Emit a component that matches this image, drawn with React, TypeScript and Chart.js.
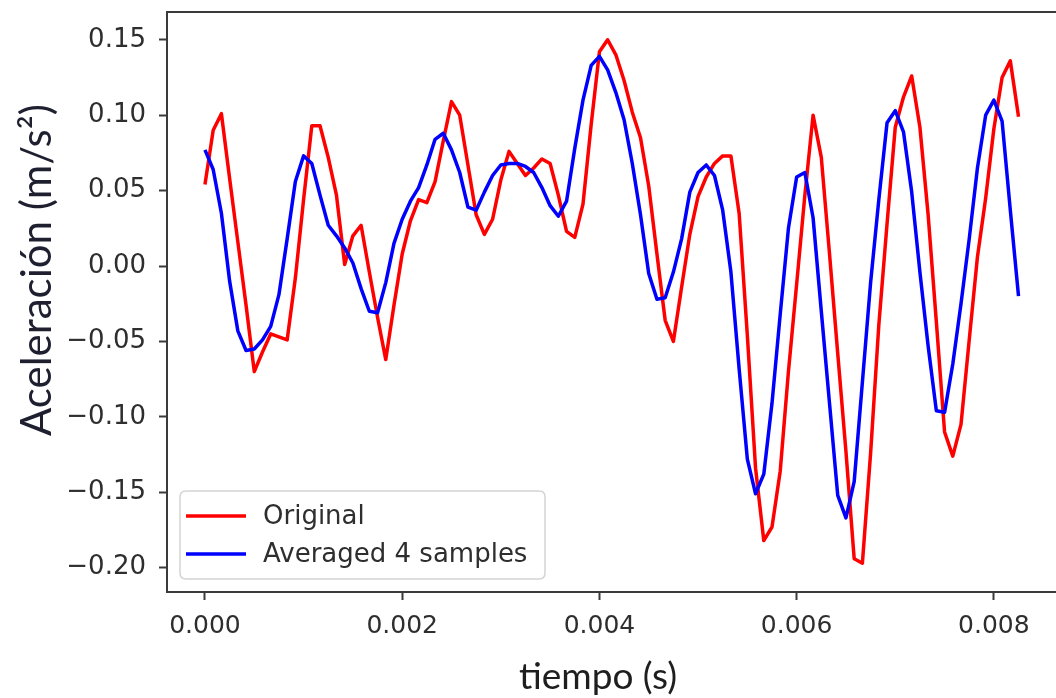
import React, { useEffect, useRef } from "react";
import { Chart, registerables } from "chart.js";

Chart.register(...registerables);

// Sampling period of the recorded signal (s)
const SAMPLE_PERIOD = 1 / 12000;

// Original acceleration samples (m/s^2)
const ORIGINAL = [
  0.054, 0.090, 0.101, 0.058, 0.016, -0.026, -0.070, -0.057, -0.045, -0.047,
  -0.049, -0.008, 0.044, 0.093, 0.093, 0.072, 0.047, 0.001, 0.020, 0.027,
  -0.004, -0.034, -0.062, -0.026, 0.008, 0.030, 0.044, 0.042, 0.056, 0.083,
  0.109, 0.100, 0.067, 0.034, 0.021, 0.031, 0.057, 0.076, 0.068, 0.060,
  0.065, 0.071, 0.068, 0.047, 0.023, 0.019, 0.041, 0.094, 0.142, 0.150,
  0.140, 0.123, 0.102, 0.085, 0.053, 0.008, -0.036, -0.050, -0.014, 0.021,
  0.046, 0.059, 0.068, 0.073, 0.073, 0.035, -0.046, -0.134, -0.182, -0.173,
  -0.136, -0.070, -0.012, 0.047, 0.100, 0.072, 0.008, -0.058, -0.123, -0.194,
  -0.197, -0.124, -0.039, 0.028, 0.092, 0.112, 0.126, 0.092, 0.034, -0.037,
  -0.110, -0.126, -0.105, -0.049, 0.006, 0.045, 0.091, 0.125, 0.136, 0.099,
];

// Averaged (4 samples) acceleration (m/s^2)
const AVERAGED = [
  0.077, 0.064, 0.035, -0.010, -0.043, -0.056, -0.055, -0.049, -0.040, -0.019,
  0.018, 0.056, 0.073, 0.068, 0.047, 0.027, 0.020, 0.012, 0.002, -0.015,
  -0.030, -0.031, -0.011, 0.015, 0.031, 0.043, 0.052, 0.067, 0.084, 0.088,
  0.077, 0.062, 0.039, 0.037, 0.049, 0.060, 0.067, 0.068, 0.068, 0.066,
  0.062, 0.052, 0.040, 0.033, 0.043, 0.078, 0.110, 0.133, 0.139, 0.130,
  0.115, 0.097, 0.068, 0.034, -0.005, -0.022, -0.021, -0.004, 0.018, 0.049,
  0.062, 0.067, 0.060, 0.037, -0.004, -0.068, -0.128, -0.151, -0.138, -0.091,
  -0.032, 0.025, 0.059, 0.062, 0.032, -0.030, -0.091, -0.152, -0.167, -0.143,
  -0.077, -0.011, 0.044, 0.095, 0.103, 0.089, 0.049, -0.004, -0.053, -0.096,
  -0.097, -0.065, -0.025, 0.018, 0.065, 0.100, 0.110, 0.096, 0.037, -0.020,
];

const SERIES_LABELS = ["Original", "Averaged 4 samples"];
const SERIES_COLORS = ["#ff0000", "#0000ff"];

const X_TICKS = [0, 0.002, 0.004, 0.006, 0.008];
const X_TICK_LABELS = ["0.000", "0.002", "0.004", "0.006", "0.008"];
const Y_TICKS = [0.15, 0.1, 0.05, 0, -0.05, -0.1, -0.15, -0.2];
const Y_TICK_LABELS = ["0.15", "0.10", "0.05", "0.00", "\u22120.05", "\u22120.10", "\u22120.15", "\u22120.20"];

const X_TITLE = "tiempo (s)";
const Y_TITLE = "Aceleración (m/s²)";

const AXIS_COLOR = "#3a3a3a";
const TEXT_COLOR = "#2e2e2e";
const TICK_FONT = "DejaVu Sans";
const TITLE_FONT = "Lato";

export default function App() {
  const ref = useRef<HTMLCanvasElement>(null);

  useEffect(() => {
    const canvas = ref.current;
    if (!canvas) return;
    const times = ORIGINAL.map((_, i) => i * SAMPLE_PERIOD);

    const framePlugin = {
      id: "frameAndLegend",
      afterDraw(chart: any) {
        const { ctx, chartArea } = chart;
        ctx.save();
        // top spine
        ctx.strokeStyle = AXIS_COLOR;
        ctx.lineWidth = 2;
        ctx.beginPath();
        ctx.moveTo(chartArea.left - 1, chartArea.top);
        ctx.lineTo(chartArea.right, chartArea.top);
        ctx.stroke();

        // axis titles
        ctx.fillStyle = "#1e1e1e";
        ctx.font = `37px "${TITLE_FONT}"`;
        ctx.textAlign = "center";
        ctx.textBaseline = "alphabetic";
        ctx.fillText(X_TITLE, 598, 689);

        ctx.save();
        ctx.translate(51, 270);
        ctx.rotate(-Math.PI / 2);
        ctx.fillStyle = "#1e2030";
        ctx.font = `42px "${TITLE_FONT}"`;
        ctx.textAlign = "center";
        ctx.textBaseline = "alphabetic";
        ctx.fillText(Y_TITLE, 0, 0);
        ctx.restore();

        // legend box (matplotlib style, lower left)
        const bx = chartArea.left + 13;
        const by = chartArea.bottom - 101;
        const bw = 365;
        const bh = 88;
        const r = 6;
        ctx.beginPath();
        ctx.moveTo(bx + r, by);
        ctx.lineTo(bx + bw - r, by);
        ctx.quadraticCurveTo(bx + bw, by, bx + bw, by + r);
        ctx.lineTo(bx + bw, by + bh - r);
        ctx.quadraticCurveTo(bx + bw, by + bh, bx + bw - r, by + bh);
        ctx.lineTo(bx + r, by + bh);
        ctx.quadraticCurveTo(bx, by + bh, bx, by + bh - r);
        ctx.lineTo(bx, by + r);
        ctx.quadraticCurveTo(bx, by, bx + r, by);
        ctx.closePath();
        ctx.fillStyle = "rgba(255,255,255,0.85)";
        ctx.fill();
        ctx.strokeStyle = "#d4d4d4";
        ctx.lineWidth = 1.5;
        ctx.stroke();

        const rows = [by + 25, by + 63];
        chart.data.datasets.forEach((ds: any, i: number) => {
          const y = rows[i];
          ctx.strokeStyle = ds.borderColor;
          ctx.lineWidth = 3.5;
          ctx.lineCap = "butt";
          ctx.beginPath();
          ctx.moveTo(bx + 6, y);
          ctx.lineTo(bx + 66, y);
          ctx.stroke();
          ctx.fillStyle = TEXT_COLOR;
          ctx.font = `26px "${TICK_FONT}"`;
          ctx.textBaseline = "middle";
          ctx.textAlign = "left";
          ctx.fillText(ds.label, bx + 83, y + 1);
        });
        ctx.restore();
      },
    };

    const chart = new Chart(canvas, {
      type: "line",
      data: {
        datasets: [
          {
            label: SERIES_LABELS[0],
            data: times.map((t, i) => ({ x: t, y: ORIGINAL[i] })),
            borderColor: SERIES_COLORS[0],
            backgroundColor: SERIES_COLORS[0],
            borderWidth: 3.5,
            pointRadius: 0,
            tension: 0,
            fill: false,
            borderJoinStyle: "round",
            order: 1,
          },
          {
            label: SERIES_LABELS[1],
            data: times.map((t, i) => ({ x: t, y: AVERAGED[i] })),
            borderColor: SERIES_COLORS[1],
            backgroundColor: SERIES_COLORS[1],
            borderWidth: 3.5,
            pointRadius: 0,
            tension: 0,
            fill: false,
            borderJoinStyle: "round",
            order: 0,
          },
        ],
      },
      options: {
        animation: false,
        responsive: false,
        maintainAspectRatio: false,
        layout: { padding: { top: 12, left: 0, right: 0, bottom: 0 } },
        plugins: {
          legend: { display: false },
          tooltip: { enabled: false },
        },
        scales: {
          x: {
            type: "linear",
            min: -0.000385,
            max: 0.00863,
            afterBuildTicks: (s: any) => {
              s.ticks = X_TICKS.map((v) => ({ value: v }));
            },
            afterFit: (s: any) => {
              s.height = 106;
              s.paddingLeft = 0;
              s.paddingRight = 0;
            },
            ticks: {
              autoSkip: false,
              maxRotation: 0,
              padding: 11,
              color: TEXT_COLOR,
              font: { family: TICK_FONT, size: 25 },
              callback: (v: any) => {
                const idx = X_TICKS.findIndex((t) => Math.abs(t - Number(v)) < 1e-9);
                return idx >= 0 ? X_TICK_LABELS[idx] : "";
              },
            },
            grid: {
              drawOnChartArea: false,
              drawTicks: true,
              tickLength: 8,
              tickWidth: 2,
              tickColor: AXIS_COLOR,
            },
            border: { display: true, color: AXIS_COLOR, width: 2 },
            title: { display: false },
          },
          y: {
            type: "linear",
            min: -0.2161,
            max: 0.1684,
            afterBuildTicks: (s: any) => {
              s.ticks = Y_TICKS.map((v) => ({ value: v }));
            },
            afterFit: (s: any) => {
              s.width = 167;
              s.paddingTop = 0;
              s.paddingBottom = 0;
            },
            ticks: {
              autoSkip: false,
              padding: 13,
              color: TEXT_COLOR,
              font: { family: TICK_FONT, size: 26 },
              callback: (v: any) => {
                const idx = Y_TICKS.findIndex((t) => Math.abs(t - Number(v)) < 1e-9);
                return idx >= 0 ? Y_TICK_LABELS[idx] : "";
              },
            },
            grid: {
              drawOnChartArea: false,
              drawTicks: true,
              tickLength: 8,
              tickWidth: 2,
              tickColor: AXIS_COLOR,
            },
            border: { display: true, color: AXIS_COLOR, width: 2 },
            title: { display: false },
          },
        },
      },
      plugins: [framePlugin],
    } as any);

    return () => chart.destroy();
  }, []);

  return (
    <div
      style={{
        position: "fixed",
        left: 0,
        top: 0,
        width: 1056,
        height: 698,
        background: "#ffffff",
        overflow: "hidden",
      }}
    >
      <canvas ref={ref} width={1056} height={698} style={{ display: "block" }} />
    </div>
  );
}
